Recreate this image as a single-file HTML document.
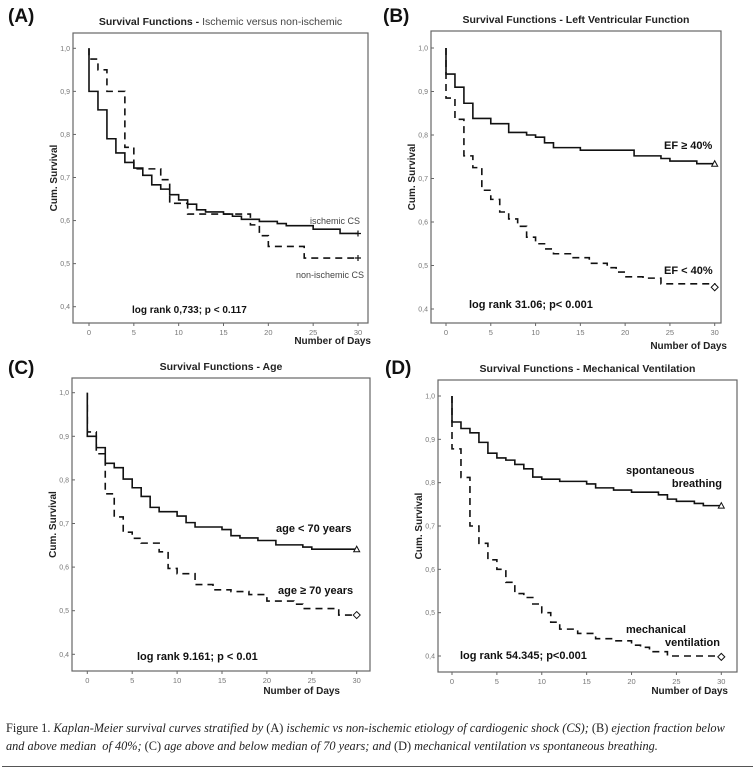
<!DOCTYPE html>
<html><head><meta charset="utf-8"><style>
body{margin:0;background:#fff;width:755px;height:770px;overflow:hidden;font-family:"Liberation Sans",sans-serif}
#cap{position:absolute;left:6px;top:719px;width:750px;font-family:"Liberation Serif",serif;font-size:12.3px;line-height:18px;color:#222;white-space:nowrap}
#cap i{font-style:italic}
#rule{position:absolute;left:2px;top:766px;width:751px;height:1px;background:#555}
</style></head><body>
<svg id="fig" width="755" height="715" style="position:absolute;left:0;top:0" xmlns="http://www.w3.org/2000/svg"></svg>
<div id="cap">Figure 1. <i>Kaplan-Meier survival curves stratified by</i> (A) <i>ischemic vs non-ischemic etiology of cardiogenic shock (CS);</i> (B) <i>ejection fraction below</i><br><i>and above median &nbsp;of 40%;</i> (C) <i>age above and below median of 70 years; and</i> (D) <i>mechanical ventilation vs spontaneous breathing.</i></div>
<div id="rule"></div>
<script>
const xTicks=[0,5,10,15,20,25,30];
const yTicks=[0.4,0.5,0.6,0.7,0.8,0.9,1.0];
const yTickLabels=["0,4","0,5","0,6","0,7","0,8","0,9","1,0"];
// panel A
const aSolidDays=[0,1,2,3,4,5,6,7,8,9,10,11,12,13,15,16,17,19,21,22,25,28,30];
const aSolidVals=[0.9,0.857,0.79,0.757,0.735,0.722,0.705,0.683,0.673,0.66,0.648,0.638,0.625,0.62,0.615,0.61,0.603,0.598,0.593,0.588,0.58,0.57,0.57];
const aDashDays=[0,1,2,4,5,8,9,11,18,19,20,24,30];
const aDashVals=[0.975,0.95,0.9,0.77,0.72,0.695,0.64,0.615,0.59,0.565,0.54,0.513,0.513];
// panel B
const bSolidDays=[0,1,2,3,5,7,9,10,11,12,15,21,24,25,28,30];
const bSolidVals=[0.94,0.91,0.873,0.838,0.826,0.806,0.8,0.795,0.782,0.771,0.765,0.752,0.746,0.74,0.734,0.734];
const bDashDays=[0,1,2,3,4,5,6,7,8,9,10,11,12,14,16,18,19,20,22,24,30];
const bDashVals=[0.885,0.836,0.752,0.725,0.673,0.652,0.623,0.607,0.59,0.565,0.55,0.538,0.527,0.518,0.505,0.495,0.485,0.474,0.471,0.458,0.45];
// panel C
const cSolidDays=[0,1,2,3,4,5,6,7,8,10,11,12,15,16,17,19,21,24,25,30];
const cSolidVals=[0.9,0.874,0.838,0.828,0.802,0.782,0.762,0.737,0.727,0.717,0.702,0.692,0.686,0.672,0.667,0.661,0.651,0.646,0.641,0.641];
const cDashDays=[0,1,2,3,4,5,6,8,9,10,12,14,16,18,20,23,24,28,30];
const cDashVals=[0.91,0.86,0.768,0.715,0.68,0.666,0.655,0.635,0.597,0.585,0.56,0.548,0.544,0.537,0.522,0.515,0.505,0.49,0.49];
// panel D
const dSolidDays=[0,1,2,3,4,5,6,7,8,9,10,12,15,16,18,20,23,24,25,27,28,30];
const dSolidVals=[0.94,0.925,0.915,0.893,0.868,0.857,0.852,0.842,0.832,0.813,0.808,0.803,0.797,0.788,0.783,0.778,0.772,0.762,0.757,0.752,0.747,0.747];
const dDashDays=[0,1,2,3,4,5,6,7,8,9,10,11,12,14,16,18,20,21,22,24,30];
const dDashVals=[0.878,0.812,0.7,0.66,0.622,0.6,0.57,0.544,0.535,0.52,0.5,0.478,0.462,0.452,0.44,0.435,0.425,0.42,0.41,0.4,0.398];

const NS="http://www.w3.org/2000/svg";
const svg=document.getElementById('fig');
function mk(tag,at,parent){const e=document.createElementNS(NS,tag);for(const k in at)e.setAttribute(k,at[k]);(parent||svg).appendChild(e);return e;}
function txt(s,at,parent){const e=mk('text',at,parent);e.textContent=s;return e;}

function panel(p){
  const g=mk('g',{});
  
  
  const xs=d=>p.x0+(p.x30-p.x0)*d/30;
  const ys=v=>p.y1+(p.y04-p.y1)*(1-v)/0.6;
  const lab=txt('('+p.id+')',{x:p.lx,y:p.ly,'font-size':19,'font-weight':'bold',fill:'#111'},g);
  
  
  const t=txt('',{x:(p.bl+p.br)/2,y:p.bt-8,'font-size':10.5,'font-weight':'bold','text-anchor':'middle',fill:'#222'},g);
  
  
  const t1=mk('tspan',{},t);t1.textContent=p.title;
  if(p.title2){const t2=mk('tspan',{'font-weight':'normal',fill:'#444'},t);t2.textContent=p.title2;}
  const box=mk('rect',{x:p.bl,y:p.bt,width:p.br-p.bl,height:p.bb-p.bt,fill:'none',stroke:'#666','stroke-width':1.2},g);
  
  
  yTicks.forEach((v,i)=>{
    mk('line',{x1:p.bl,x2:p.bl+3,y1:ys(v),y2:ys(v),stroke:'#666'},g);
    const l=txt(yTickLabels[i],{x:p.bl-3,y:ys(v)+2.5,'font-size':7,'text-anchor':'end',fill:'#777'},g);
    
    
  });
  xTicks.forEach(d=>{
    mk('line',{x1:xs(d),x2:xs(d),y1:p.bb,y2:p.bb+3,stroke:'#666'},g);
    const l=txt(String(d),{x:xs(d),y:p.bb+12,'font-size':7.5,'text-anchor':'middle',fill:'#777'},g);
    
    
  });
  const cy=(p.bt+p.bb)/2;
  const yt=txt('Cum. Survival',{x:p.bl-16,y:cy,'font-size':10,'font-weight':'bold','text-anchor':'middle',fill:'#222',transform:`rotate(-90 ${p.bl-16} ${cy})`},g);
  
  
  const xt=txt('Number of Days',{x:p.xtx,y:p.xty,'font-size':10,'font-weight':'bold','text-anchor':'end',fill:'#222'},g);
  
  
  function curve(days,vals,dash,name,marker){
    let d=`M${xs(0)},${ys(1)} V${ys(vals[0])}`;
    for(let i=1;i<days.length;i++){d+=` H${xs(days[i])} V${ys(vals[i])}`;}
    const path=mk('path',{d:d,fill:'none',stroke:'#111','stroke-width':1.6,'stroke-dasharray':dash?'7,5':'none'},g);
    
    
    const ex=xs(days[days.length-1]),ey=ys(vals[vals.length-1]);
    let m;
    if(marker==='plus') m=mk('path',{d:`M${ex-3},${ey}H${ex+3}M${ex},${ey-3}V${ey+3}`,stroke:'#111','stroke-width':1.2},g);
    else if(marker==='tri') m=mk('path',{d:`M${ex-3},${ey+2.5}L${ex},${ey-3}L${ex+3},${ey+2.5}Z`,fill:'#fff',stroke:'#111','stroke-width':1},g);
    else m=mk('path',{d:`M${ex-3.5},${ey}L${ex},${ey-3.5}L${ex+3.5},${ey}L${ex},${ey+3.5}Z`,fill:'#fff',stroke:'#111','stroke-width':1},g);
    
    
  }
  curve(p.sd,p.sv,false,'solid-curve',p.ms);
  curve(p.dd,p.dv,true,'dashed-curve',p.md);
  p.labels.forEach(L=>{
    const e=txt(L[0],{x:L[1],y:L[2],'font-size':L[3],'font-weight':L[4]?'bold':'normal','text-anchor':L[5]||'start',fill:L[4]?'#111':'#444'},g);
    
    
  });
}
panel({id:'A',lx:8,ly:22,title:'Survival Functions - ',title2:'Ischemic versus non-ischemic',bl:73,bt:33,br:368,bb:323,x0:89,x30:358,y1:48.3,y04:306.7,xtx:371,xty:344,
 sd:aSolidDays,sv:aSolidVals,dd:aDashDays,dv:aDashVals,ms:'plus',md:'plus',
 labels:[['ischemic CS',310,224,9,false,'start','legend-ischemic'],['non-ischemic CS',296,278,9,false,'start','legend-non-ischemic'],['log rank 0,733; p < 0.117',132,313,10,true,'start','log-rank-text']]});
panel({id:'B',lx:383,ly:22,title:'Survival Functions - Left Ventricular Function',bl:431,bt:31,br:721,bb:323,x0:446,x30:714.7,y1:48,y04:309,xtx:727,xty:349,
 sd:bSolidDays,sv:bSolidVals,dd:bDashDays,dv:bDashVals,ms:'tri',md:'dia',
 labels:[['EF ≥ 40%',664,149,11,true,'start','legend-ef-high'],['EF < 40%',664,274,11,true,'start','legend-ef-low'],['log rank 31.06; p< 0.001',469,308,11,true,'start','log-rank-text']]});
panel({id:'C',lx:8,ly:374,title:'Survival Functions - Age',bl:72,bt:378,br:370,bb:671,x0:87.3,x30:356.7,y1:392.7,y04:654.3,xtx:340,xty:694,
 sd:cSolidDays,sv:cSolidVals,dd:cDashDays,dv:cDashVals,ms:'tri',md:'dia',
 labels:[['age < 70 years',276,532,11,true,'start','legend-age-young'],['age ≥ 70 years',278,594,11,true,'start','legend-age-old'],['log rank 9.161; p < 0.01',137,660,11,true,'start','log-rank-text']]});
panel({id:'D',lx:385,ly:374,title:'Survival Functions - Mechanical Ventilation',bl:438,bt:380,br:737,bb:672,x0:452,x30:721.3,y1:396,y04:656,xtx:728,xty:694,
 sd:dSolidDays,sv:dSolidVals,dd:dDashDays,dv:dDashVals,ms:'tri',md:'dia',
 labels:[['spontaneous',626,474,11,true,'start','legend-spontaneous'],['breathing',722,487,11,true,'end','legend-spontaneous-2'],['mechanical',626,633,11,true,'start','legend-mechanical'],['ventilation',720,646,11,true,'end','legend-mechanical-2'],['log rank 54.345; p<0.001',460,659,11,true,'start','log-rank-text']]});
</script>
</body></html>
